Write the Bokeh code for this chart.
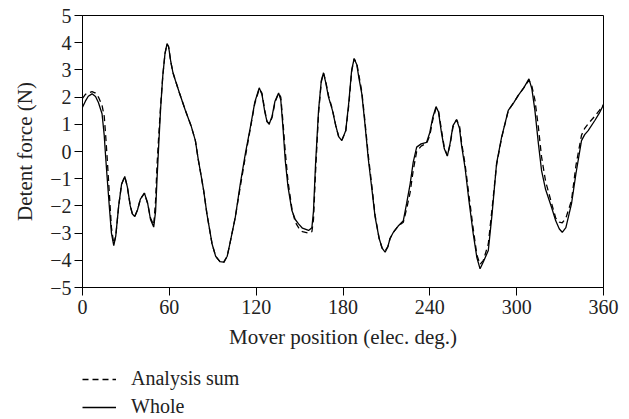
from bokeh.plotting import figure
from bokeh.layouts import column
from bokeh.models import Legend, LegendItem, FixedTicker, Range1d
from bokeh.embed import file_html
from bokeh.resources import INLINE

# Mover position (elec. deg.)
pos = [0, 2, 4, 6.6, 9, 11, 13.5, 15, 16, 17, 18.5, 20, 21.6, 23, 25, 27, 29.2, 31, 33, 34.5,
       36.1, 38, 40, 42.8, 45, 47, 49.2, 50.5, 51.5, 52.7, 54, 55.5, 57, 58.4, 59.5, 61, 62.5, 64.2,
       67, 71.1, 75, 78, 80, 82, 83.7, 86, 89.5, 92, 95, 97.5, 100, 102, 105.6, 109, 112.5, 116,
       119, 122.1, 124, 126, 127.5, 129.1, 131, 133, 135.5, 137, 138.5, 140.1, 142, 144.7, 147,
       149.3, 152, 156.2, 158.5, 159.6, 161, 163.1, 165, 166.5, 168, 170, 172.7, 175, 177, 179.2,
       181.9, 184, 186, 187.7, 189.5, 191, 193, 195, 197.6, 200, 202.2, 205, 207, 209.1, 211,
       212.5, 214.8, 218, 221.7, 224, 226.4, 228.5, 230.9, 234, 237.8, 240, 242, 244.3, 246, 248,
       250, 252.1, 254, 256, 258.5, 260.5, 262, 264.3, 267, 270, 272.5, 274.7, 277, 280.4, 283,
       286.1, 289.6, 294.2, 298, 301.1, 305, 308.5, 310.5, 312.6, 315, 317.2, 320, 324.1, 327,
       329.5, 331.5, 334, 337.9, 341, 344.8, 347, 349.4, 354, 357, 360]

# Whole (solid)
whole = [1.63, 1.85, 2.03, 2.12, 2.02, 1.8, 1.39, 0.6, -0.2, -0.94, -2.0, -3.0, -3.46, -3.1, -2.0,
         -1.2, -0.92, -1.3, -2.0, -2.3, -2.39, -2.15, -1.75, -1.53, -1.9, -2.5, -2.78, -2.2, -1.0,
         0.28, 1.6, 2.8, 3.6, 3.96, 3.85, 3.3, 2.9, 2.61, 2.15, 1.51, 0.95, 0.40, -0.3, -0.9,
         -1.43, -2.3, -3.39, -3.85, -4.05, -4.07, -3.85, -3.35, -2.41, -1.2, -0.09, 0.9, 1.8, 2.34,
         2.1, 1.45, 1.1, 1.02, 1.3, 1.85, 2.15, 1.9, 0.9, -0.33, -1.3, -2.17, -2.5, -2.66, -2.82,
         -2.90, -2.8, -2.2, -0.5, 1.51, 2.6, 2.89, 2.55, 2.0, 1.51, 0.95, 0.55, 0.40, 0.77, 1.8,
         3.0, 3.41, 3.2, 2.7, 2.12, 1.1, -0.33, -1.4, -2.41, -3.2, -3.55, -3.70, -3.5, -3.2, -2.97,
         -2.75, -2.54, -1.9, -1.19, -0.4, 0.16, 0.28, 0.34, 0.7, 1.25, 1.65, 1.45, 0.7, 0.1, -0.17,
         0.3, 0.95, 1.17, 0.85, 0.2, -0.58, -1.8, -3.03, -3.9, -4.31, -4.05, -3.64, -2.3, -0.45,
         0.53, 1.51, 1.8, 2.06, 2.35, 2.67, 2.3, 1.51, 0.3, -0.70, -1.4, -2.05, -2.55, -2.85,
         -2.97, -2.8, -1.92, -0.8, 0.40, 0.62, 0.77, 1.14, 1.4, 1.72]

# Analysis sum (dashed)
analysis = [1.95, 2.1, 2.15, 2.2, 2.15, 2.0, 1.7, 1.3, 0.6, -0.2, -1.5, -2.8, -3.4, -3.1, -2.0,
            -1.2, -0.92, -1.3, -2.0, -2.3, -2.39, -2.15, -1.75, -1.53, -1.9, -2.45, -2.7, -1.8, -0.5,
            0.6, 1.7, 2.8, 3.6, 3.96, 3.85, 3.3, 2.9, 2.61, 2.15, 1.51, 0.95, 0.40, -0.3, -0.9,
            -1.43, -2.3, -3.39, -3.85, -4.05, -4.1, -3.85, -3.35, -2.41, -1.3, -0.2, 0.85, 1.75, 2.3,
            2.15, 1.5, 1.1, 1.0, 1.25, 1.8, 2.15, 2.0, 1.1, 0.0, -1.1, -2.1, -2.6, -2.8, -2.95,
            -3.0, -2.95, -2.5, -0.8, 1.4, 2.55, 2.89, 2.6, 2.05, 1.55, 0.95, 0.55, 0.42, 0.75, 1.7,
            2.95, 3.41, 3.25, 2.8, 2.2, 1.2, -0.2, -1.3, -2.35, -3.2, -3.55, -3.65, -3.5, -3.2, -2.97,
            -2.75, -2.6, -2.1, -1.5, -0.7, 0.0, 0.2, 0.3, 0.6, 1.15, 1.6, 1.5, 0.8, 0.15, -0.15,
            0.25, 0.9, 1.17, 0.95, 0.3, -0.45, -1.6, -2.85, -3.8, -4.15, -4.0, -3.4, -2.1, -0.5,
            0.5, 1.5, 1.8, 2.06, 2.35, 2.62, 2.4, 1.9, 0.9, -0.2, -1.1, -1.9, -2.45, -2.6,
            -2.62, -2.45, -1.8, -0.5, 0.6, 0.85, 1.02, 1.3, 1.5, 1.72]

x_ticks = [0, 60, 120, 180, 240, 300, 360]
y_ticks = [-5, -4, -3, -2, -1, 0, 1, 2, 3, 4, 5]
series_labels = ["Analysis sum", "Whole"]

FONT = "Liberation Serif"
TXT = "#222222"
DASH = "6 4"

p = figure(width=629, height=355, output_backend="svg", toolbar_location=None,
           x_range=Range1d(0, 360), y_range=Range1d(-5, 5),
           min_border_left=82, min_border_right=26, min_border_top=15, min_border_bottom=68,
           frame_width=521, frame_height=272)

p.xgrid.visible = False
p.ygrid.visible = False
p.outline_line_color = "black"
p.outline_line_width = 1
p.background_fill_color = "white"
p.border_fill_color = "white"

p.line(pos, analysis, line_color="black", line_width=1.3, line_dash=DASH)
p.line(pos, whole, line_color="black", line_width=1.3)

for ax in (p.xaxis[0], p.yaxis[0]):
    ax.axis_line_color = "black"
    ax.major_tick_line_color = "black"
    ax.major_tick_out = 8
    ax.major_tick_in = 0
    ax.minor_tick_line_color = None
    ax.major_label_text_font = FONT
    ax.major_label_text_font_size = "20px"
    ax.major_label_text_color = TXT
    ax.axis_label_text_font = FONT
    ax.axis_label_text_font_size = "21px"
    ax.axis_label_text_font_style = "normal"
    ax.axis_label_text_color = TXT

p.xaxis.ticker = FixedTicker(ticks=x_ticks)
p.yaxis.ticker = FixedTicker(ticks=y_ticks)
p.xaxis.major_label_overrides = {t: str(t) for t in x_ticks}
p.yaxis.major_label_overrides = {t: (str(t).replace("-", "\u2212")) for t in y_ticks}
p.xaxis.axis_label = "Mover position (elec. deg.)"
p.yaxis.axis_label = "Detent force (N)"
p.xaxis.major_label_standoff = 4
p.yaxis.major_label_standoff = 3
p.xaxis.axis_label_standoff = 8
p.yaxis.axis_label_standoff = 10

# Legend panel below the plot (same series, hidden renderers; legend only)
p2 = figure(width=629, height=64, output_backend="svg", toolbar_location=None,
            x_axis_location=None, y_axis_location=None,
            min_border_left=0, min_border_right=0, min_border_top=0, min_border_bottom=0)
p2.xgrid.visible = False
p2.ygrid.visible = False
p2.outline_line_color = None
p2.background_fill_color = "white"
p2.border_fill_color = "white"
l_dash = p2.line(pos, analysis, line_color="black", line_width=1.3, line_dash=DASH, visible=False)
l_solid = p2.line(pos, whole, line_color="black", line_width=1.3, visible=False)

legend = Legend(items=[LegendItem(label=series_labels[0], renderers=[l_dash]),
                       LegendItem(label=series_labels[1], renderers=[l_solid])],
                location=(0, 1), orientation="vertical",
                border_line_color=None, background_fill_alpha=0,
                inactive_fill_alpha=0,
                label_text_font=FONT, label_text_font_size="20px", label_text_color=TXT,
                glyph_width=34, glyph_height=20, label_height=20, label_standoff=15,
                spacing=5, padding=0, margin=0)
p2.add_layout(legend, "center")

layout = column(p, p2, spacing=0)
open("out.html", "w").write(file_html(layout, INLINE))
